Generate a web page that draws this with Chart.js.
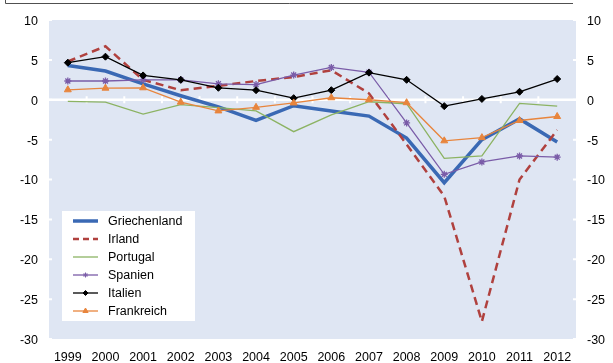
<!DOCTYPE html>
<html>
<head>
<meta charset="utf-8">
<script src="https://cdn.jsdelivr.net/npm/chart.js@4/dist/chart.umd.min.js"></script>
<style>
  html, body { margin: 0; padding: 0; background: #ffffff; }
  #wrap { position: relative; width: 613px; height: 363px; }
</style>
</head>
<body>
<div id="wrap"><canvas id="c" width="613" height="363"></canvas></div>
<script>
// Jahre (Kategorien)
const years = ['1999','2000','2001','2002','2003','2004','2005','2006','2007','2008','2009','2010','2011','2012'];

// Werte je Land
const griechenland = [4.3, 3.6, 2.0, 0.5, -0.9, -2.6, -0.75, -1.4, -2.05, -4.8, -10.4, -5.0, -2.4, -5.3];
const irland       = [4.8, 6.7, 2.5, 1.2, 1.75, 2.35, 2.85, 3.7, 0.8, -5.6, -12.1, -27.8, -10.0, -3.8];
const portugal     = [-0.2, -0.3, -1.8, -0.6, -1.0, -1.4, -4.0, -1.9, -0.25, -0.5, -7.35, -7.05, -0.45, -0.8];
const spanien      = [2.35, 2.35, 2.5, 2.5, 2.0, 1.9, 3.1, 4.05, 3.45, -2.9, -9.35, -7.8, -7.05, -7.2];
const italien      = [4.65, 5.4, 3.05, 2.5, 1.5, 1.2, 0.2, 1.2, 3.4, 2.5, -0.8, 0.1, 1.0, 2.6];
const frankreich   = [1.25, 1.45, 1.5, -0.3, -1.4, -0.95, -0.4, 0.25, 0.0, -0.37, -5.15, -4.75, -2.6, -2.1];

// Achsenbereich
const yMin = -30, yMax = 10, yStep = 5;

const FONT = { family: '"Liberation Sans", Arial, sans-serif', size: 12.5 };
const PLOT_BG = '#dfe6f3';

const series = [
  { label: 'Griechenland', data: griechenland, color: '#3a69b4', width: 3.5, dash: [], point: false },
  { label: 'Irland',       data: irland,       color: '#b0413e', width: 2.5, dash: [8, 5], point: false },
  { label: 'Portugal',     data: portugal,     color: '#8cb363', width: 1.3, dash: [], point: false },
  { label: 'Spanien',      data: spanien,      color: '#7a5ca8', width: 1.3, dash: [], point: 'star', radius: 3.5 },
  { label: 'Italien',      data: italien,      color: '#000000', width: 1.3, dash: [], point: 'rectRot', radius: 3.5 },
  { label: 'Frankreich',   data: frankreich,   color: '#e8853d', width: 1.3, dash: [], point: 'triangle', radius: 4 }
];

const datasets = series.map((s, i) => ({
  label: s.label,
  data: s.data,
  borderColor: s.color,
  backgroundColor: s.color,
  borderWidth: s.width,
  borderDash: s.dash,
  tension: 0,
  fill: false,
  order: series.length - i,
  pointStyle: s.point || 'circle',
  pointRadius: s.point ? s.radius : 0,
  pointHoverRadius: s.point ? s.radius : 0,
  pointBorderWidth: s.point === 'star' ? 1.3 : 1,
  pointBorderColor: s.color,
  pointBackgroundColor: s.color
}));

// Hintergrund der Zeichenfläche, Nulllinie mit Teilstrichen, Rahmenlinie oben
const decor = {
  id: 'decor',
  beforeDatasetsDraw(chart) {
    const { ctx, chartArea: a, scales } = chart;
    const x = scales.x, y = scales.y;
    ctx.save();
    const y0 = y.getPixelForValue(0);
    ctx.strokeStyle = '#ffffff';
    ctx.lineWidth = 2.5;
    ctx.beginPath();
    ctx.moveTo(a.left, y0);
    ctx.lineTo(a.right, y0);
    ctx.stroke();
    ctx.lineWidth = 2;
    ctx.beginPath();
    for (let i = 0; i < years.length - 1; i++) {
      const bx = (x.getPixelForValue(i) + x.getPixelForValue(i + 1)) / 2;
      ctx.moveTo(bx, y0 - 3.5);
      ctx.lineTo(bx, y0 + 3.5);
    }
    for (let v = yMin; v <= yMax; v += yStep) {
      const py = y.getPixelForValue(v);
      ctx.moveTo(a.left, py);
      ctx.lineTo(a.left + 3, py);
      ctx.moveTo(a.right - 3, py);
      ctx.lineTo(a.right, py);
    }
    ctx.stroke();
    ctx.restore();
  },
  beforeDraw(chart) {
    const { ctx, chartArea: a } = chart;
    ctx.save();
    ctx.fillStyle = PLOT_BG;
    ctx.fillRect(a.left, a.top, a.right - a.left, a.bottom - a.top);
    ctx.strokeStyle = '#505050';
    ctx.lineWidth = 1;
    ctx.beginPath();
    ctx.moveTo(5.5, 0);
    ctx.lineTo(5.5, 3.5);
    ctx.lineTo(573, 3.5);
    ctx.stroke();
    ctx.restore();
  }
};

// Legende innerhalb der Zeichenfläche
const legendBox = {
  id: 'legendBox',
  afterDraw(chart) {
    const { ctx } = chart;
    const bx = 62, by = 211, bw = 133, bh = 110;
    const rowH = 18, firstY = 221;
    ctx.save();
    ctx.fillStyle = '#ffffff';
    ctx.fillRect(bx, by, bw, bh);
    ctx.font = FONT.size + 'px ' + FONT.family;
    ctx.textBaseline = 'middle';
    ctx.textAlign = 'left';
    series.forEach((s, i) => {
      const cy = firstY + i * rowH;
      ctx.strokeStyle = s.color;
      ctx.lineWidth = s.width;
      ctx.setLineDash(s.dash.length ? [6, 4] : []);
      ctx.beginPath();
      ctx.moveTo(73, cy);
      ctx.lineTo(98, cy);
      ctx.stroke();
      ctx.setLineDash([]);
      if (s.point) {
        ctx.fillStyle = s.color;
        ctx.strokeStyle = s.color;
        ctx.lineWidth = 1;
        Chart.helpers.drawPoint(ctx, {
          pointStyle: s.point,
          radius: s.point === 'triangle' ? 3 : 2.5,
          rotation: 0,
          borderWidth: 1
        }, 85.5, cy);
      }
      ctx.fillStyle = '#000000';
      ctx.fillText(s.label, 108, cy + 0.5);
    });
    ctx.restore();
  }
};

new Chart(document.getElementById('c'), {
  type: 'line',
  data: { labels: years, datasets },
  plugins: [decor, legendBox],
  options: {
    responsive: false,
    animation: false,
    devicePixelRatio: 1,
    layout: { padding: { top: 20, left: 0, right: 0, bottom: 0 } },
    plugins: { legend: { display: false }, tooltip: { enabled: false } },
    scales: {
      x: {
        type: 'category',
        offset: true,
        grid: { display: false, drawTicks: false },
        border: { display: false },
        ticks: { color: '#000000', font: FONT, padding: 11, maxRotation: 0, autoSkip: false },
        afterFit(scale) { scale.height = 24; }
      },
      y: {
        position: 'left',
        min: yMin, max: yMax,
        grid: { display: false, drawTicks: false },
        border: { display: false },
        ticks: { stepSize: yStep, color: '#000000', font: FONT, padding: 11, labelOffset: 1.5 },
        afterFit(scale) { scale.width = 49; }
      },
      y2: {
        position: 'right',
        min: yMin, max: yMax,
        grid: { display: false, drawTicks: false },
        border: { display: false },
        ticks: { stepSize: yStep, color: '#000000', font: FONT, padding: 11, labelOffset: 1.5 },
        afterFit(scale) { scale.width = 37; }
      }
    }
  }
});
</script>
</body>
</html>
